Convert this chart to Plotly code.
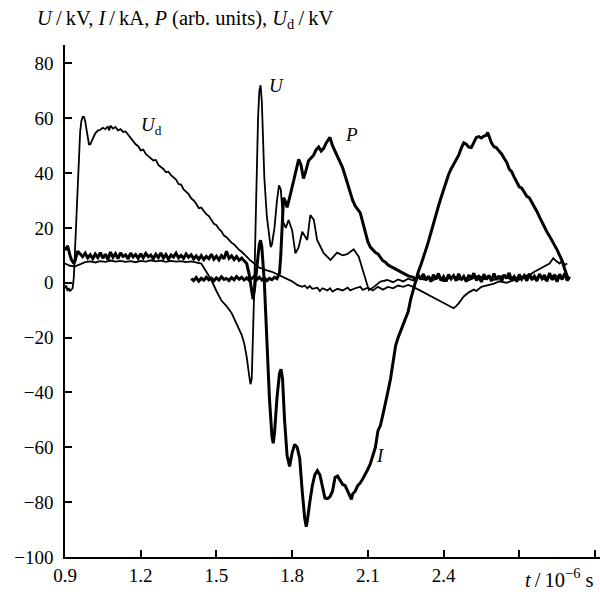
import plotly.graph_objects as go

# ---------------- data ----------------
# U_d (thin)
ud_t = [0.90, 0.905, 0.91, 0.915, 0.92, 0.93, 0.935, 0.94, 0.945, 0.95, 0.955, 0.96, 0.965, 0.97, 0.975,
        0.98, 0.985, 0.99, 0.995, 1.00, 1.005, 1.01, 1.02, 1.03, 1.04, 1.05, 1.06, 1.07, 1.075, 1.08,
        1.09, 1.10, 1.11, 1.12, 1.13, 1.14, 1.15, 1.16, 1.17, 1.18, 1.19, 1.20, 1.21, 1.22, 1.23, 1.24,
        1.25, 1.26, 1.27, 1.28, 1.29, 1.30, 1.31, 1.32, 1.33, 1.34, 1.35, 1.36, 1.37, 1.38, 1.39, 1.40,
        1.41, 1.42, 1.43, 1.44, 1.45, 1.46, 1.47, 1.48, 1.49, 1.50, 1.51, 1.52, 1.53, 1.54, 1.55, 1.56,
        1.57, 1.58, 1.59, 1.60, 1.61, 1.62, 1.63, 1.64, 1.65, 1.66, 1.67, 1.68, 1.69, 1.70, 1.72, 1.74,
        1.76, 1.78, 1.80, 1.82, 1.84, 1.85, 1.86, 1.87, 1.88, 1.90, 1.91, 1.92, 1.94, 1.95, 1.96, 1.98,
        2.00, 2.02, 2.03, 2.05, 2.07, 2.08, 2.10, 2.12, 2.14, 2.16, 2.18, 2.20, 2.22, 2.24, 2.26, 2.28,
        2.30, 2.32, 2.34, 2.36, 2.38, 2.40, 2.42, 2.44, 2.45, 2.46, 2.48, 2.50, 2.52, 2.53, 2.55, 2.57,
        2.60, 2.62, 2.65, 2.68, 2.70, 2.72, 2.74, 2.76, 2.78, 2.80, 2.82, 2.835, 2.845, 2.86, 2.87, 2.88, 2.89]
ud_v = [-2, -1, -3, -2, -3, -2, 2, 12, 25, 38, 48, 55, 59, 60.5, 60.5,
        59, 56, 52.5, 50.5, 50.5, 51.5, 53, 54.5, 55.5, 55.8, 56.5, 56, 57, 55.5, 57.3,
        56.2, 56.8, 55.6, 56, 55, 55.2, 54, 52.5, 51.5, 50.5, 49.8, 48.3, 48.6, 47, 46.2, 45.5,
        44.6, 44.8, 43, 42.2, 41.5, 40.3, 40.5, 39.2, 38.4, 37.6, 36, 35.8, 34, 33.2, 32.3, 30.8,
        30, 28.8, 27.2, 27.4, 26, 25, 24.3, 23, 21.5, 21, 19.6, 18.8, 17.2, 16.6, 15.5, 14.6,
        14, 12.8, 12, 11.3, 10.5, 9.5, 8.5, 7.8, 7, 6.2, 5.5, 5.2, 4.8, 4.5, 4, 3.2,
        2.2, 1.5, 0.5, -0.8, -1.5, -1, -2, -1.2, -2.2, -1.8, -3, -2, -2.8, -2, -3.2, -2.2,
        -2.8, -1.8, -2.8, -2, -1.5, -2.6, -1.8, -2.8, -1.5, -2.5, -1.5, -2, -1, -1.5, -0.8, -1.5,
        -2.5, -3.5, -4.5, -5.5, -6.5, -7.5, -8.5, -9.3, -8.5, -7.5, -5, -3.5, -2.5, -3, -1.5, -1,
        -0.3, 0.5, 0, 1, 1.5, 2.5, 2.8, 4, 5, 5.8, 7, 9, 8, 7, 8, 6.5, 7]

# U (medium)
u_t = [0.90, 0.92, 0.94, 0.96, 0.98, 1.00, 1.02, 1.04, 1.06, 1.08, 1.10, 1.12, 1.14, 1.16, 1.18, 1.20,
       1.22, 1.24, 1.26, 1.28, 1.30, 1.32, 1.34, 1.36, 1.38, 1.40, 1.42, 1.43, 1.44, 1.46, 1.48, 1.50,
       1.52, 1.54, 1.56, 1.58, 1.60, 1.61, 1.62, 1.63, 1.635, 1.64, 1.645, 1.65, 1.655, 1.66, 1.665,
       1.67, 1.675, 1.68, 1.685, 1.69, 1.70, 1.71, 1.715, 1.72, 1.73, 1.74, 1.748, 1.755, 1.76, 1.765,
       1.775, 1.786, 1.80, 1.813, 1.826, 1.84, 1.86, 1.872, 1.886, 1.899, 1.925, 1.952, 1.978, 2.00,
       2.018, 2.044, 2.064, 2.084, 2.104, 2.124, 2.15, 2.177, 2.20, 2.22, 2.24, 2.26, 2.28, 2.30, 2.32,
       2.34, 2.36, 2.38, 2.40, 2.42, 2.44, 2.46, 2.48, 2.50, 2.52, 2.54, 2.56, 2.58, 2.60, 2.62, 2.64,
       2.66, 2.68, 2.70, 2.72, 2.74, 2.76, 2.78, 2.80, 2.82, 2.84, 2.86, 2.88, 2.90]
u_v = [7, 6.2, 6, 6.8, 7.5, 7.8, 7.4, 7.9, 7.6, 8.1, 7.7, 8, 7.6, 7.9, 7.5, 8,
       7.7, 8.2, 7.8, 8.1, 7.6, 8, 7.7, 7.9, 7.5, 7.8, 7.4, 7.2, 7, 4, 1, -3,
       -6.5, -8.5, -11, -15, -19, -22, -27, -34, -37, -35, -22, -2, 20, 42, 60,
       70, 72, 66, 52, 38, 24, 15, 13, 14, 20, 30, 35.5, 34, 28, 22,
       20, 22.9, 19.2, 10.7, 13, 18.6, 15.6, 24.7, 22.9, 15.6, 10.8, 8.3, 11, 10,
       10.4, 12.2, 9.5, 3.4, -2.7, -1.5, 0.4, 1, 0.2, 1.2, 0.5, 1.5, 0.8, 2, 1.2,
       2.2, 1, 1.8, 0.6, 1.6, 2.4, 1.2, 2, 0.9, 1.8, 2.6, 1.3, 2.2, 1, 1.9, 2.8,
       1.5, 2.3, 1.1, 2, 2.8, 1.6, 2.4, 1.2, 2.2, 2.9, 1.7, 2.5, 1.4]

# I (thick)
i_t = [0.90, 0.905, 0.91, 0.915, 0.92, 0.925, 0.93, 0.935, 0.94, 0.945, 0.95,
       0.96, 0.97, 0.98, 0.99, 1.00, 1.01, 1.02, 1.03, 1.04, 1.05, 1.06, 1.07, 1.08, 1.09, 1.10,
       1.11, 1.12, 1.13, 1.14, 1.15, 1.16, 1.17, 1.18, 1.19, 1.20, 1.21, 1.22, 1.23, 1.24, 1.25,
       1.26, 1.27, 1.28, 1.29, 1.30, 1.31, 1.32, 1.33, 1.34, 1.35, 1.36, 1.37, 1.38, 1.39, 1.40,
       1.41, 1.42, 1.43, 1.44, 1.45, 1.46, 1.47, 1.48, 1.49, 1.50, 1.51, 1.52, 1.53, 1.54, 1.55,
       1.56, 1.57, 1.58, 1.59, 1.60, 1.61, 1.62, 1.63, 1.64, 1.645, 1.65, 1.66, 1.67, 1.675, 1.68,
       1.69, 1.70, 1.71, 1.72, 1.725, 1.73, 1.74, 1.75, 1.756, 1.762, 1.77, 1.78, 1.79, 1.80, 1.81,
       1.82, 1.83, 1.84, 1.85, 1.856, 1.86, 1.87, 1.88, 1.89, 1.90, 1.91, 1.92, 1.93, 1.94, 1.95,
       1.96, 1.97, 1.98, 1.99, 2.00, 2.01, 2.02, 2.03, 2.035, 2.04, 2.05, 2.06, 2.07, 2.08, 2.09,
       2.10, 2.11, 2.12, 2.13, 2.14, 2.15, 2.16, 2.17, 2.18, 2.19, 2.20, 2.21, 2.22, 2.23, 2.24,
       2.25, 2.26, 2.27, 2.28, 2.29, 2.30, 2.31, 2.32, 2.33, 2.34, 2.35, 2.36, 2.37, 2.38, 2.39,
       2.40, 2.41, 2.42, 2.43, 2.44, 2.45, 2.46, 2.47, 2.48, 2.49, 2.50, 2.51, 2.52, 2.53, 2.54,
       2.55, 2.56, 2.57, 2.575, 2.58, 2.59, 2.60, 2.61, 2.62, 2.63, 2.64, 2.65, 2.66, 2.67, 2.68,
       2.69, 2.70, 2.71, 2.72, 2.73, 2.74, 2.75, 2.76, 2.77, 2.78, 2.79, 2.80, 2.81, 2.82, 2.83,
       2.84, 2.85, 2.86, 2.87, 2.88, 2.89, 2.895]
i_v = [13, 12, 13.5, 11, 10, 8.5, 7.5, 7, 8, 10, 11.5,
       10.5, 9.5, 10.8, 9, 10.2, 8.8, 10.5, 9.2, 11, 9, 10.4, 8.5, 11.2, 9.3, 10.6,
       8.8, 10.9, 9.6, 10.2, 8.7, 10.8, 9.4, 10.3, 8.9, 10.6, 9.1, 10.7, 9.5, 10.1, 8.8,
       10.4, 9.2, 10.9, 9, 10.3, 8.6, 10.1, 9.4, 10.8, 9.1, 10, 8.9, 10.5, 9.3, 10.2,
       8.7, 9.8, 8.5, 9.9, 8.4, 9.6, 8.8, 10.4, 8.6, 9.7, 8.3, 9.9, 8.7, 11.5, 8.9,
       9.8, 8.5, 9.6, 8.2, 9, 8, 7, 3, -4, -6, -3, 6, 14, 15.5, 13,
       0, -22, -42, -56, -58.5, -55, -42, -33, -31.5, -35, -50, -63, -67, -62, -59,
       -60, -64, -76, -86, -89, -87, -80, -74, -70, -68.5, -70, -75, -78.5, -78.7, -78,
       -76, -71, -70.5, -72, -73.5, -74, -76, -78.5, -79, -77, -76, -74, -73, -71.5, -70,
       -68, -66, -63, -60, -54, -52, -48, -43, -39.5, -35, -29, -23, -20, -17.5, -15,
       -13, -10.5, -6, -2.5, 1.5, 4, 6.5, 9, 12, 15, 18.5, 21.5, 24.5, 28, 31,
       34, 37, 39.5, 41.5, 43, 44.5, 46.5, 49, 51, 50.5, 49.5, 49.3, 51.5, 53, 53.3,
       52.8, 53.5, 53.8, 54.8, 53.5, 51, 49.6, 49.2, 48, 47, 45.4, 44, 41.5, 40.5, 38.5,
       36.5, 35, 34.5, 33, 31.5, 31, 29.5, 28, 26, 24, 22, 20.4, 18.5, 17, 15.5,
       14, 12, 10, 8, 5, 2, 1]

# P (thick)
p_t = [1.40, 1.41, 1.42, 1.43, 1.44, 1.45, 1.46, 1.47, 1.48, 1.49, 1.50, 1.51, 1.52, 1.53, 1.54,
       1.55, 1.56, 1.57, 1.58, 1.59, 1.60, 1.61, 1.62, 1.63, 1.64, 1.65, 1.66, 1.67, 1.68, 1.69,
       1.70, 1.71, 1.72, 1.73, 1.74, 1.745, 1.75, 1.755, 1.76, 1.766, 1.772, 1.78, 1.79, 1.80, 1.81,
       1.82, 1.826, 1.835, 1.845, 1.855, 1.865, 1.875, 1.885, 1.895, 1.905, 1.915, 1.925, 1.935, 1.945,
       1.95, 1.96, 1.97, 1.98, 1.99, 2.00, 2.01, 2.02, 2.03, 2.04, 2.05, 2.06, 2.07, 2.08, 2.09,
       2.10, 2.11, 2.12, 2.13, 2.14, 2.15, 2.16, 2.17, 2.18, 2.19, 2.20, 2.21, 2.22, 2.24, 2.26,
       2.28, 2.29, 2.30, 2.31, 2.32, 2.33, 2.34, 2.35, 2.36, 2.37, 2.38, 2.39, 2.40, 2.41, 2.42,
       2.43, 2.44, 2.45, 2.46, 2.47, 2.48, 2.49, 2.50, 2.51, 2.52, 2.53, 2.54, 2.55, 2.56, 2.57,
       2.58, 2.59, 2.60, 2.61, 2.62, 2.63, 2.64, 2.65, 2.66, 2.67, 2.68, 2.69, 2.70, 2.71, 2.72,
       2.73, 2.74, 2.75, 2.76, 2.77, 2.78, 2.79, 2.80, 2.81, 2.82, 2.83, 2.84, 2.85, 2.86, 2.87,
       2.88, 2.89, 2.90]
p_v = [1.5, 0.8, 1.9, 0.6, 1.6, 0.9, 2.0, 1.1, 1.7, 0.7, 1.8, 1.0, 2.2, 1.2, 1.6,
       0.8, 1.9, 1.1, 2.3, 1.3, 2.0, 1.0, 1.8, 0.9, 1.5, 2.4, 1.2, 2.0, 1.0, 1.8,
       0.8, 1.6, 1.1, 2.0, 1.5, 2.5, 3.5, 10, 22, 31, 30, 27.5, 31, 35, 39,
       43, 45, 43, 38, 41, 44.5, 45.5, 46.5, 48.5, 49.5, 48, 49, 51, 52.5,
       53, 50, 48, 46, 44, 42, 39, 36, 33, 30, 28, 26.5, 25.5, 22, 18,
       15, 13, 12, 11, 10.5, 9, 8, 7.5, 6.5, 6, 5.5, 5, 4.5, 3.5, 2.5,
       2, 0.6, 2.8, 1.2, 3.2, 0.9, 2.4, 0.4, 2.9, 1.3, 3.4, 0.8, 2.2, 0.5, 3.0,
       1.4, 2.6, 0.7, 3.3, 1.0, 2.3, 0.4, 2.8, 1.5, 3.5, 0.9, 2.1, 0.3, 3.1, 1.2,
       2.7, 0.6, 3.4, 1.1, 2.5, 0.5, 2.9, 1.6, 3.6, 0.8, 2.2, 0.4, 3.0, 1.3, 2.6,
       0.7, 3.3, 1.0, 2.4, 0.6, 3.2, 1.5, 2.8, 0.5, 3.5, 1.1, 2.3, 0.4, 3.1, 1.2,
       3.4, 0.8, 2.2]

# axis ticks
x_ticks = [0.9, 1.2, 1.5, 1.8, 2.1, 2.4, 2.7, 3.0]
x_tick_labels = ["0.9", "1.2", "1.5", "1.8", "2.1", "2.4", "", ""]
y_ticks = [-100, -80, -60, -40, -20, 0, 20, 40, 60, 80]

# ---------------- figure ----------------
FONT = "Liberation Serif"
SL = "\u2009/\u2009"  # slash with thin spaces, as typeset in the original
fig = go.Figure()
fig.add_trace(go.Scatter(x=ud_t, y=ud_v, mode="lines", line=dict(color="black", width=1.8), name="Ud"))
fig.add_trace(go.Scatter(x=u_t, y=u_v, mode="lines", line=dict(color="black", width=1.8), name="U"))
fig.add_trace(go.Scatter(x=p_t, y=p_v, mode="lines", line=dict(color="black", width=3), name="P"))
fig.add_trace(go.Scatter(x=i_t, y=i_v, mode="lines", line=dict(color="black", width=3), name="I"))

ann = dict(showarrow=False, font=dict(family=FONT, size=19, color="black"))
fig.add_annotation(x=1.737, y=72, text="<i>U</i>", **ann)
fig.add_annotation(x=2.035, y=54, text="<i>P</i>", **ann)
fig.add_annotation(x=1.241, y=57, text="<i>U</i><sub>d</sub>", **ann)
fig.add_annotation(x=2.15, y=-63, text="<i>I</i>", **ann)
fig.add_annotation(xref="paper", yref="paper", x=-0.056, y=1.049, xanchor="left", yanchor="middle",
                   text=("<i>U</i>" + SL + "kV, <i>I</i>" + SL + "kA, <i>P</i> (arb. units), <i>U</i><sub>d</sub>"
                         + SL + "kV"),
                   showarrow=False, font=dict(family=FONT, size=20.5, color="black"))
fig.add_annotation(x=2.86, y=-100, yshift=-6, xanchor="center", yanchor="top",
                   text="<i>t</i>" + SL + "10<sup>−6</sup> s",
                   showarrow=False, font=dict(family=FONT, size=20.5, color="black"))

fig.update_layout(
    width=600, height=592,
    margin=dict(l=65, r=0, t=45, b=35, autoexpand=False),
    paper_bgcolor="white", plot_bgcolor="white",
    showlegend=False,
    font=dict(family=FONT, size=19, color="black"),
)
fig.update_xaxes(range=[0.9, 3.02], tickvals=x_ticks, ticktext=x_tick_labels,
                 ticks="inside", ticklen=7, tickwidth=1.5, tickcolor="black",
                 showline=True, linecolor="black", linewidth=1.5, automargin=False,
                 showgrid=False, zeroline=False)
fig.update_yaxes(range=[-100, 86.7], tickvals=y_ticks,
                 ticks="inside", ticklen=7, tickwidth=1.5, tickcolor="black",
                 showline=True, linecolor="black", linewidth=1.5, automargin=False,
                 ticklabelstandoff=6,
                 showgrid=False, zeroline=False)

fig.write_html("out.html", config={"displayModeBar": False},
               post_script="document.body.style.margin='0';document.body.style.padding='0';")
